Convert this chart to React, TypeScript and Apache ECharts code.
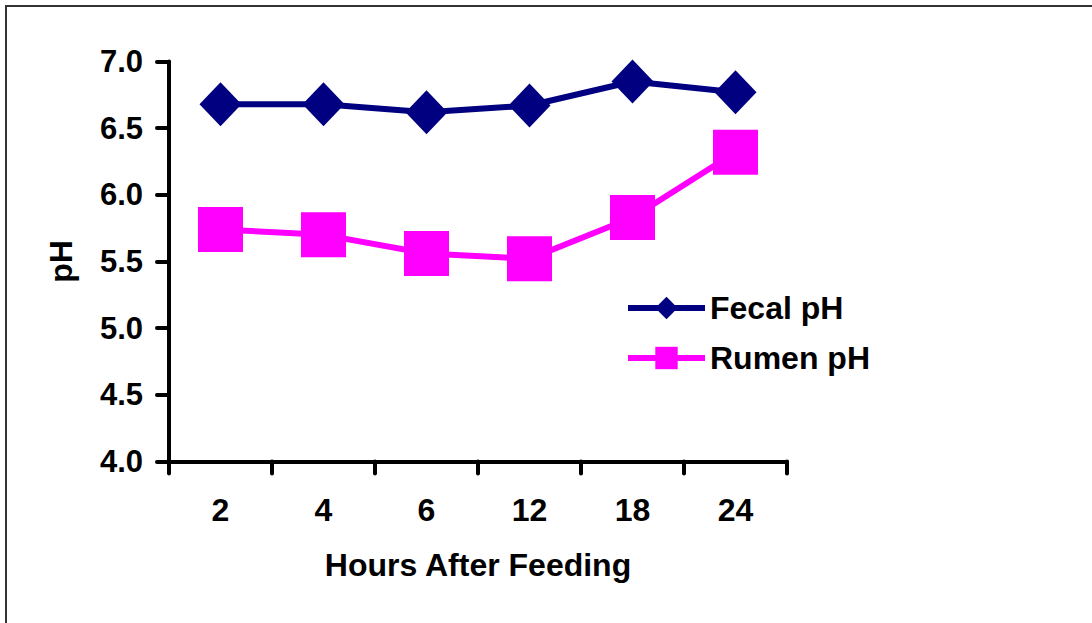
import React, { useEffect, useRef } from "react";
import * as echarts from "echarts";

const hours = ["2", "4", "6", "12", "18", "24"];
const fecalPH = [6.68, 6.68, 6.62, 6.67, 6.85, 6.77];
const rumenPH = [5.74, 5.7, 5.56, 5.52, 5.83, 6.32];
const yTicks = { min: 4, max: 7, interval: 0.5 };

const FONT = "'Liberation Sans', Arial, sans-serif";

export default function App() {
  const ref = useRef<HTMLDivElement>(null);
  useEffect(() => {
    if (!ref.current) return;
    const chart = echarts.init(ref.current, null, { renderer: "svg" });
    chart.setOption({
      animation: false,
      backgroundColor: "#fff",
      textStyle: { fontFamily: FONT },
      graphic: [
        {
          type: "rect",
          shape: { x: 6, y: 6, width: 1200, height: 800 },
          style: { fill: "none", stroke: "#333", lineWidth: 2 },
          silent: true,
        },
      ],
      grid: { left: 169, right: 1092 - 787, top: 61.5, bottom: 623 - 461.5, containLabel: false },
      legend: {
        left: 625,
        top: 292,
        padding: 0,
        orient: "vertical",
        itemWidth: 77,
        itemHeight: 28,
        itemGap: 18,
        lineStyle: { width: 6 },
        textStyle: { fontFamily: FONT, fontSize: 32, fontWeight: "bold", color: "#000" },
        data: ["Fecal pH", "Rumen pH"],
      },
      xAxis: {
        type: "category",
        data: hours,
        boundaryGap: true,
        name: "Hours After Feeding",
        nameLocation: "middle",
        nameGap: 87,
        nameTextStyle: { fontFamily: FONT, fontSize: 32, fontWeight: "bold", color: "#000" },
        axisLine: { lineStyle: { color: "#000", width: 4, cap: "round" } },
        axisTick: { show: true, length: 12, lineStyle: { color: "#000", width: 4, cap: "round" } },
        axisLabel: { margin: 32, fontFamily: FONT, fontSize: 32, fontWeight: "bold", color: "#000" },
        splitLine: { show: false },
      },
      yAxis: {
        type: "value",
        min: yTicks.min,
        max: yTicks.max,
        interval: yTicks.interval,
        name: "pH",
        nameLocation: "middle",
        nameGap: 92,
        nameTextStyle: { fontFamily: FONT, fontSize: 32, fontWeight: "bold", color: "#000" },
        axisLine: { show: true, lineStyle: { color: "#000", width: 4, cap: "round" } },
        axisTick: { show: true, length: 12, lineStyle: { color: "#000", width: 4, cap: "round" } },
        axisLabel: {
          margin: 26,
          fontFamily: FONT,
          fontSize: 31,
          fontWeight: "bold",
          color: "#000",
          formatter: (v: number) => v.toFixed(1),
        },
        splitLine: { show: false },
      },
      series: [
        {
          name: "Fecal pH",
          type: "line",
          data: fecalPH,
          symbol: "diamond",
          symbolSize: [42, 44],
          color: "#000080",
          lineStyle: { color: "#000080", width: 6 },
          itemStyle: { color: "#000080" },
        },
        {
          name: "Rumen pH",
          type: "line",
          data: rumenPH,
          symbol: "rect",
          symbolSize: 45,
          color: "#FF00FF",
          lineStyle: { color: "#FF00FF", width: 6 },
          itemStyle: { color: "#FF00FF" },
        },
      ],
    });
    return () => chart.dispose();
  }, []);
  return (
    <div
      ref={ref}
      style={{ position: "fixed", left: 0, top: 0, width: 1092, height: 623 }}
    />
  );
}
